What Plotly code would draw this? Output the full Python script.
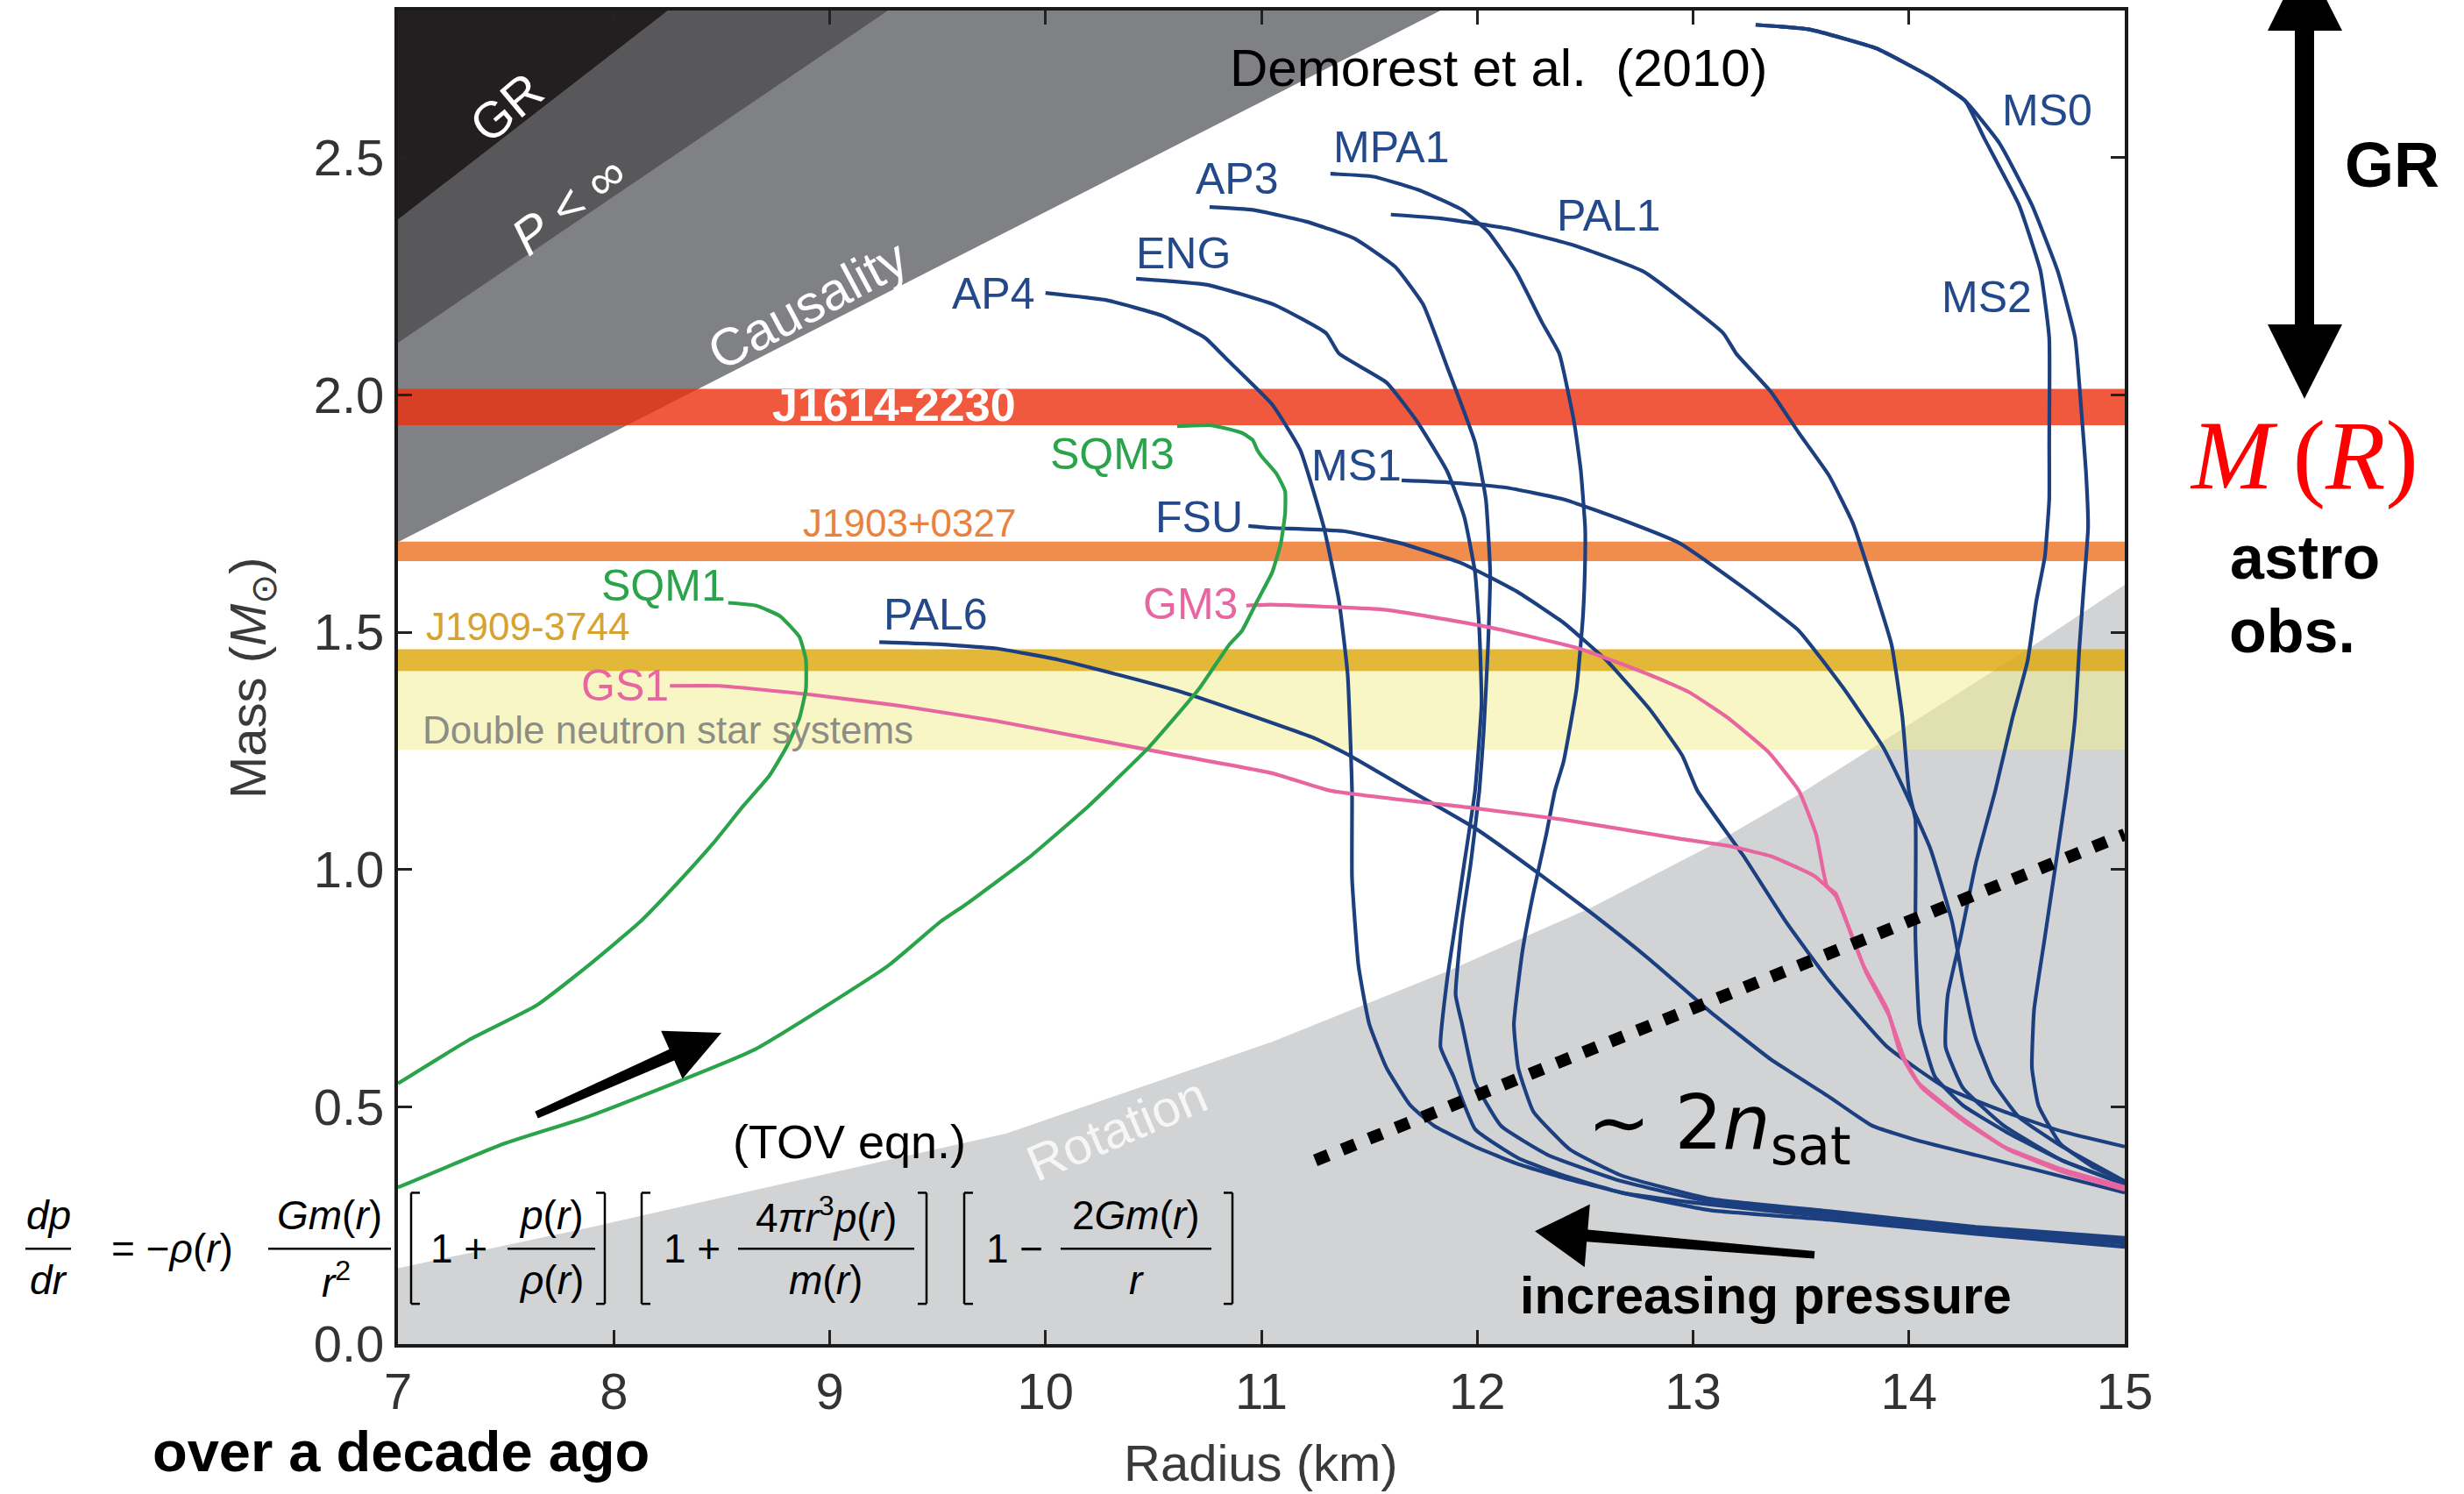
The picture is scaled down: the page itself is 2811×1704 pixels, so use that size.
import math
import plotly.graph_objects as go

# ---------------- axis ticks ----------------
radius_ticks = [7, 8, 9, 10, 11, 12, 13, 14, 15]
mass_ticks = [0.0, 0.5, 1.0, 1.5, 2.0, 2.5]
mass_tick_text = ["0.0", "0.5", "1.0", "1.5", "2.0", "2.5"]
R_MIN, R_MAX, M_MIN, M_MAX = 7.0, 15.0, 0.0, 2.81

# ---------------- excluded regions (boundary lines, R in km, M in Msun) ----------------
gr_edge_r = [7.0, 8.25]
gr_edge_m = [2.37, 2.81]
pinf_edge_r = [7.0, 9.27]
pinf_edge_m = [2.11, 2.81]
causal_edge_r = [7.0, 11.83]
causal_edge_m = [1.69, 2.81]
rotation_edge_r = [7.0, 7.88, 9.82, 11.05, 11.86, 12.53, 13.08, 13.52, 14.58, 15.0]
rotation_edge_m = [0.16, 0.245, 0.444, 0.637, 0.785, 0.92, 1.05, 1.166, 1.473, 1.60]

# ---------------- measured mass bands ----------------
band_labels = ["J1614-2230", "J1903+0327", "J1909-3744", "Double neutron star systems"]
band_low = [1.936, 1.650, 1.418, 1.252]
band_high = [2.013, 1.691, 1.464, 1.418]

# ---------------- mass-radius relations ----------------
ap4_r = [10.00, 10.28, 10.54, 10.74, 10.84, 11.05, 11.18, 11.29, 11.36, 11.40, 11.42, 11.42, 11.45, 11.50,
         11.58, 11.69, 11.80, 11.99, 12.19, 12.40, 12.67, 13.08, 13.63, 14.31, 15.0]
ap4_m = [2.215, 2.20, 2.167, 2.12, 2.075, 1.98, 1.884, 1.72, 1.565, 1.41, 1.166, 0.982, 0.797, 0.674,
         0.582, 0.503, 0.46, 0.416, 0.379, 0.35, 0.319, 0.282, 0.262, 0.232, 0.205]

eng_r = [10.42, 10.75, 11.06, 11.30, 11.36, 11.58, 11.72, 11.86, 11.94, 11.99, 12.01, 12.02, 11.99, 11.94,
         11.90, 11.86, 11.83, 11.89, 11.99, 12.19, 12.40, 12.67, 13.08, 13.63, 14.31, 15.0]
eng_m = [2.245, 2.232, 2.19, 2.13, 2.087, 2.026, 1.945, 1.84, 1.743, 1.626, 1.503, 1.35, 1.166, 1.013,
         0.889, 0.766, 0.626, 0.564, 0.453, 0.392, 0.355, 0.319, 0.294, 0.268, 0.237, 0.212]

ap3_r = [10.76, 10.96, 11.21, 11.43, 11.62, 11.75, 11.86, 11.99, 12.04, 12.06, 12.05, 12.03, 12.01, 11.97,
         11.93, 11.90, 11.93, 11.99, 12.11, 12.33, 12.67, 13.08, 13.63, 14.31, 15.0]
ap3_m = [2.396, 2.39, 2.365, 2.33, 2.27, 2.19, 2.06, 1.90, 1.78, 1.626, 1.47, 1.29, 1.166, 1.013,
         0.889, 0.736, 0.674, 0.552, 0.46, 0.398, 0.343, 0.30, 0.274, 0.242, 0.218]

mpa1_r = [11.32, 11.52, 11.74, 11.93, 12.05, 12.18, 12.30, 12.38, 12.45, 12.48, 12.50, 12.50, 12.49, 12.46,
          12.40, 12.36, 12.32, 12.26, 12.21, 12.17, 12.19, 12.26, 12.43, 12.67, 13.08, 13.63, 14.31, 15.0]
mpa1_m = [2.466, 2.46, 2.43, 2.39, 2.344, 2.26, 2.153, 2.087, 1.94, 1.84, 1.72, 1.657, 1.534, 1.38,
          1.227, 1.166, 1.074, 0.95, 0.829, 0.674, 0.582, 0.49, 0.41, 0.355, 0.306, 0.28, 0.247, 0.224]

pal1_r = [11.60, 11.83, 12.15, 12.45, 12.77, 13.14, 13.20, 13.36, 13.49, 13.63, 13.74, 13.83, 13.92, 13.97,
          14.00, 14.03, 14.03, 14.05, 14.12, 14.25, 14.47, 14.71, 15.0]
pal1_m = [2.38, 2.372, 2.35, 2.315, 2.26, 2.13, 2.087, 2.007, 1.92, 1.83, 1.73, 1.607, 1.473, 1.32,
          1.166, 1.105, 0.858, 0.674, 0.564, 0.503, 0.442, 0.387, 0.337]

ms1_r = [11.65, 11.86, 12.13, 12.40, 12.67, 12.94, 13.23, 13.49, 13.70, 13.88, 13.98, 14.10, 14.20, 14.25,
         14.31, 14.39, 14.51, 14.71, 15.0]
ms1_m = [1.82, 1.816, 1.805, 1.78, 1.737, 1.687, 1.595, 1.503, 1.38, 1.258, 1.166, 1.043, 0.89, 0.766,
         0.644, 0.552, 0.478, 0.416, 0.343]

fsu_r = [10.94, 11.04, 11.38, 11.65, 11.93, 12.19, 12.40, 12.60, 12.80, 12.95, 13.02, 13.23, 13.43, 13.63,
         13.90, 14.17, 14.44, 14.71, 15.0]
fsu_m = [1.724, 1.72, 1.713, 1.687, 1.645, 1.584, 1.52, 1.44, 1.337, 1.24, 1.166, 1.031, 0.89, 0.766,
         0.626, 0.54, 0.49, 0.448, 0.416]

pal6_r = [9.23, 9.49, 9.77, 10.06, 10.34, 10.63, 10.91, 11.25, 11.41, 11.69, 11.99, 12.26, 12.53, 12.80,
          13.08, 13.36, 13.63, 13.83, 14.04, 14.31, 14.58, 15.0]
pal6_m = [1.479, 1.475, 1.466, 1.442, 1.41, 1.374, 1.331, 1.276, 1.24, 1.166, 1.087, 1.0, 0.908, 0.81,
          0.70, 0.60, 0.521, 0.46, 0.429, 0.398, 0.368, 0.319]

ms2_r = [13.29, 13.54, 13.85, 14.10, 14.26, 14.35, 14.51, 14.61, 14.65, 14.65, 14.65, 14.63, 14.59, 14.55,
         14.48, 14.40, 14.31, 14.24, 14.18, 14.17, 14.25, 14.44, 14.71, 15.0]
ms2_m = [2.78, 2.77, 2.73, 2.67, 2.62, 2.54, 2.40, 2.26, 2.12, 1.90, 1.78, 1.66, 1.565, 1.44,
         1.32, 1.166, 1.013, 0.858, 0.736, 0.626, 0.54, 0.46, 0.387, 0.337]

ms0_r = [13.29, 13.54, 13.85, 14.10, 14.26, 14.42, 14.57, 14.69, 14.77, 14.80, 14.82, 14.83, 14.81, 14.79,
         14.77, 14.73, 14.63, 14.58, 14.57, 14.60, 14.70, 14.85, 15.0]
ms0_m = [2.78, 2.77, 2.73, 2.67, 2.62, 2.53, 2.40, 2.26, 2.12, 1.96, 1.84, 1.72, 1.595, 1.47,
         1.32, 1.166, 0.858, 0.705, 0.582, 0.503, 0.423, 0.374, 0.343]

gs1_r = [8.26, 8.49, 8.92, 9.34, 9.77, 10.20, 10.63, 11.05, 11.32, 11.99, 12.40, 12.95, 13.16, 13.36,
         13.56, 13.66, 13.71, 13.79, 13.90, 13.96, 14.04, 14.24, 14.44, 14.71, 15.0]
gs1_m = [1.387, 1.387, 1.368, 1.344, 1.313, 1.276, 1.239, 1.203, 1.166, 1.129, 1.105, 1.064, 1.05, 1.028,
         0.987, 0.945, 0.89, 0.797, 0.705, 0.613, 0.552, 0.478, 0.416, 0.368, 0.331]

gm3_r = [10.93, 11.04, 11.58, 12.06, 12.47, 12.80, 12.98, 13.16, 13.35, 13.49, 13.57, 13.62, 13.66, 13.72,
         13.80, 13.91, 13.98, 14.06, 14.26, 14.46, 14.72, 15.0]
gm3_m = [1.556, 1.558, 1.547, 1.51, 1.466, 1.41, 1.374, 1.32, 1.247, 1.166, 1.074, 0.965, 0.95, 0.88,
         0.785, 0.69, 0.60, 0.54, 0.468, 0.41, 0.362, 0.325]

sqm1_r = [8.53, 8.66, 8.77, 8.86, 8.89, 8.89, 8.86, 8.80, 8.72, 8.60, 8.46, 8.29, 8.12, 7.88, 7.64, 7.33, 7.0]
sqm1_m = [1.562, 1.556, 1.534, 1.49, 1.442, 1.38, 1.319, 1.258, 1.197, 1.134, 1.055, 0.969, 0.889, 0.797,
          0.713, 0.641, 0.549]

sqm3_r = [10.61, 10.77, 10.91, 10.96, 10.98, 11.0, 11.07, 11.11, 11.11, 11.09, 11.05, 10.98, 10.91, 10.85,
          10.71, 10.48, 10.20, 9.92, 9.63, 9.51, 9.27, 8.65, 7.88, 7.49, 7.0]
sqm3_m = [1.934, 1.936, 1.92, 1.905, 1.885, 1.871, 1.834, 1.797, 1.75, 1.687, 1.626, 1.565, 1.503, 1.473,
          1.38, 1.258, 1.134, 1.024, 0.926, 0.889, 0.797, 0.62, 0.479, 0.422, 0.33]

# ~2 n_sat guide line
nsat_r = [11.25, 15.0]
nsat_m = [0.387, 1.074]

# ---------------- styling ----------------
NAVY = "#1c3f7f"
NAVY_TXT = "#23498a"
GREEN = "#2aa34a"
PINK = "#e8669f"
FONT = "Liberation Sans, Arial, Helvetica, sans-serif"

FIG_W, FIG_H = 2811, 1704
M_L, M_R, M_T, M_B = 454, 387, 8, 171
PW = FIG_W - M_L - M_R
PH = FIG_H - M_T - M_B


def pxx(x):
    return (x - M_L) / PW


def pyy(y):
    return (FIG_H - M_B - y) / PH


fig = go.Figure()


def add_region(xs, ys, color):
    fig.add_trace(go.Scatter(x=xs, y=ys, mode="lines", fill="toself", fillcolor=color,
                             line=dict(width=0, color=color), hoverinfo="skip", showlegend=False))


# shaded exclusion regions
add_region(rotation_edge_r + [R_MAX, R_MIN], rotation_edge_m + [M_MIN, M_MIN], "#d1d3d4")
add_region([causal_edge_r[0], causal_edge_r[1], R_MIN], [causal_edge_m[0], causal_edge_m[1], M_MAX], "#808184")
add_region([pinf_edge_r[0], pinf_edge_r[1], R_MIN], [pinf_edge_m[0], pinf_edge_m[1], M_MAX], "#58585a")
add_region([gr_edge_r[0], gr_edge_r[1], R_MIN], [gr_edge_m[0], gr_edge_m[1], M_MAX], "#231f20")

# mass bands (semi-transparent so the shading shows through)
band_colors = ["rgba(236,48,14,0.80)", "rgba(237,116,38,0.82)", "rgba(222,170,20,0.85)",
               "rgba(242,238,140,0.50)"]
for lo, hi, col in zip(band_low, band_high, band_colors):
    add_region([R_MIN, R_MAX, R_MAX, R_MIN], [lo, lo, hi, hi], col)

# M-R curves
curves = [
    (ap4_r, ap4_m, NAVY), (eng_r, eng_m, NAVY), (ap3_r, ap3_m, NAVY), (mpa1_r, mpa1_m, NAVY),
    (pal1_r, pal1_m, NAVY), (ms1_r, ms1_m, NAVY), (fsu_r, fsu_m, NAVY), (pal6_r, pal6_m, NAVY),
    (ms2_r, ms2_m, NAVY), (ms0_r, ms0_m, NAVY),
    (gs1_r, gs1_m, PINK), (gm3_r, gm3_m, PINK),
    (sqm1_r, sqm1_m, GREEN), (sqm3_r, sqm3_m, GREEN),
]
for xs, ys, col in curves:
    fig.add_trace(go.Scatter(x=xs, y=ys, mode="lines",
                             line=dict(color=col, width=4.2, shape="spline", smoothing=0.4),
                             hoverinfo="skip", showlegend=False))

fig.add_trace(go.Scatter(x=nsat_r, y=nsat_m, mode="lines",
                         line=dict(color="black", width=14, dash="16px,17px"),
                         hoverinfo="skip", showlegend=False))

annotations = []


def data_label(text, x, y, color, size=50, angle=0, bold=False, family=FONT):
    if bold:
        text = "<b>" + text + "</b>"
    annotations.append(dict(text=text, x=x, y=y, xref="x", yref="y", showarrow=False,
                            xanchor="center", yanchor="middle", textangle=angle,
                            font=dict(family=family, size=size, color=color)))


def paper_label(text, fx, fy, color="black", size=50, bold=False, family=FONT, angle=0):
    if bold:
        text = "<b>" + text + "</b>"
    annotations.append(dict(text=text, x=pxx(fx), y=pyy(fy), xref="paper", yref="paper",
                            showarrow=False, xanchor="center", yanchor="middle", textangle=angle,
                            font=dict(family=family, size=size, color=color)))


# curve names
for name, x, y, col in [
    ("AP4", 9.76, 2.214, NAVY_TXT), ("ENG", 10.64, 2.298, NAVY_TXT), ("AP3", 10.89, 2.455, NAVY_TXT),
    ("MPA1", 11.60, 2.521, NAVY_TXT), ("PAL1", 12.61, 2.377, NAVY_TXT), ("MS0", 14.64, 2.60, NAVY_TXT),
    ("MS2", 14.36, 2.206, NAVY_TXT), ("MS1", 11.44, 1.851, NAVY_TXT), ("FSU", 10.71, 1.742, NAVY_TXT),
    ("PAL6", 9.49, 1.538, NAVY_TXT), ("SQM3", 10.31, 1.875, GREEN), ("SQM1", 8.23, 1.598, GREEN),
    ("GM3", 10.67, 1.56, PINK), ("GS1", 8.05, 1.388, PINK),
]:
    data_label(name, x, y, col)

# band names
data_label(band_labels[0], 9.30, 1.978, "white", size=52, bold=True)
data_label(band_labels[1], 9.37, 1.731, "#e8823c", size=44)
data_label(band_labels[2], 7.60, 1.512, "#d6a32e", size=44)
data_label(band_labels[3], 8.25, 1.294, "#8d8d85", size=44)

# region names
data_label("GR", 7.50, 2.606, "white", size=58, angle=-40)
data_label("<i>P</i> &lt; ∞", 7.79, 2.40, "white", size=58, angle=-37)
data_label("Causality", 8.90, 2.19, "white", size=60, angle=-28)
data_label("Rotation", 10.33, 0.453, "#f6f6f6", size=58, angle=-23)

data_label("Demorest et al.\u00a0\u00a0(2010)", 12.10, 2.689, "black", size=60)
data_label("(TOV eqn.)", 9.09, 0.427, "black", size=54)
data_label("∼ 2<i>n</i><sub>sat</sub>", 13.12, 0.457, "black", size=86,
           family="DejaVu Sans, Open Sans, sans-serif")

# axis titles
paper_label("Mass (<i>M</i><sub>⊙</sub>)", 287, 771, "#3a3a3a", size=58, angle=-90)
paper_label("Radius (km)", 1438, 1669, "#3a3a3a", size=58)

# side commentary
paper_label("increasing pressure", 2014, 1478, size=59, bold=True)
paper_label("over a decade ago", 457, 1656, size=65, bold=True)
paper_label("GR", 2729, 184, size=72, bold=True)
paper_label("<i>M</i>\u2009(<i>R</i>)", 2628, 516, "#ff0000", size=112,
            family="Liberation Serif, Times New Roman, serif")
paper_label("astro", 2629, 634, size=70, bold=True)
paper_label("obs.", 2615, 718, size=70, bold=True)

# TOV equation pieces
EQ = 46
for text, fx, fy in [
    ("<i>dp</i>", 55, 1386), ("<i>dr</i>", 55, 1460),
    ("= −<i>ρ</i>(<i>r</i>)", 196, 1424),
    ("<i>Gm</i>(<i>r</i>)", 376, 1386), ("<i>r</i><sup>2</sup>", 383, 1460),
    ("1 +", 523, 1424),
    ("<i>p</i>(<i>r</i>)", 629, 1386), ("<i>ρ</i>(<i>r</i>)", 629, 1460),
    ("1 +", 789, 1424),
    ("4<i>πr</i><sup>3</sup><i>p</i>(<i>r</i>)", 942, 1386), ("<i>m</i>(<i>r</i>)", 942, 1460),
    ("1 −", 1157, 1424),
    ("2<i>Gm</i>(<i>r</i>)", 1296, 1386), ("<i>r</i>", 1296, 1460),
]:
    paper_label(text, fx, fy, size=EQ)

shapes = []


def px_line(x0, y0, x1, y1, width=2.5, color="black"):
    shapes.append(dict(type="line", xref="paper", yref="paper", x0=pxx(x0), y0=pyy(y0),
                       x1=pxx(x1), y1=pyy(y1), line=dict(color=color, width=width)))


def px_poly(pts, color="black"):
    path = "M " + " L ".join(f"{pxx(x):.5f},{pyy(y):.5f}" for x, y in pts) + " Z"
    shapes.append(dict(type="path", xref="paper", yref="paper", path=path,
                       fillcolor=color, line=dict(width=0)))


# fraction bars
for x0, x1 in [(29, 81), (306, 446), (579, 679), (842, 1043), (1210, 1382)]:
    px_line(x0, 1424, x1, 1424)
# square brackets
for xb, side in [(469, 1), (690, -1), (732, 1), (1057, -1), (1100, 1), (1406, -1)]:
    px_line(xb, 1360, xb, 1487)
    px_line(xb, 1360, xb + side * 10, 1360)
    px_line(xb, 1487, xb + side * 10, 1487)


def sketch_arrow(tail, tip, shaft_w, head_len, head_half):
    dx, dy = tip[0] - tail[0], tip[1] - tail[1]
    n = math.hypot(dx, dy)
    ux, uy = dx / n, dy / n
    vx, vy = -uy, ux
    bx, by = tip[0] - ux * head_len, tip[1] - uy * head_len
    px_poly([
        (tail[0] + vx * shaft_w * 0.3, tail[1] + vy * shaft_w * 0.3),
        (bx + vx * shaft_w / 2, by + vy * shaft_w / 2),
        (bx + vx * head_half, by + vy * head_half),
        tip,
        (bx - vx * head_half, by - vy * head_half),
        (bx - vx * shaft_w / 2, by - vy * shaft_w / 2),
        (tail[0] - vx * shaft_w * 0.3, tail[1] - vy * shaft_w * 0.3),
    ])


sketch_arrow((612, 1271), (823, 1177), 14, 62, 30)
sketch_arrow((2070, 1431), (1751, 1404), 14, 60, 36)

# big vertical double arrow on the right
px_poly([(2618, -30), (2640, -30), (2640, 370), (2618, 370)])
px_poly([(2587, 31), (2672, 31), (2629, -54)])
px_poly([(2587, 367), (2672, 367), (2629, 452)])

axis_common = dict(showgrid=False, zeroline=False, showline=True, linecolor="#1a1a1a", linewidth=4,
                   mirror="ticks", ticks="inside", ticklen=16, tickwidth=3, tickcolor="#222222",
                   tickfont=dict(family=FONT, size=58, color="#333333"))

fig.update_layout(
    width=FIG_W, height=FIG_H,
    margin=dict(l=M_L, r=M_R, t=M_T, b=M_B, pad=0),
    paper_bgcolor="white", plot_bgcolor="white",
    font=dict(family=FONT),
    xaxis=dict(range=[R_MIN, R_MAX], tickvals=radius_ticks, **axis_common),
    yaxis=dict(range=[M_MIN, M_MAX], tickvals=mass_ticks, ticktext=mass_tick_text, **axis_common),
    annotations=annotations,
    shapes=shapes,
    showlegend=False,
)

fig.write_html("out.html")
